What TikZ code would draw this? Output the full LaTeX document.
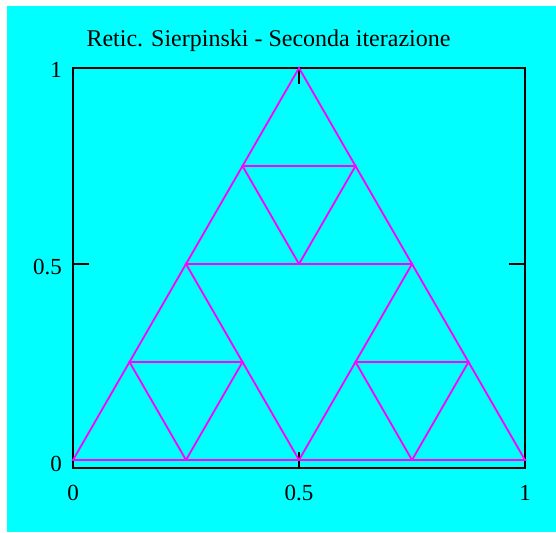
\documentclass[tikz,border=0pt]{standalone}
\usepackage{fontspec}
\setmainfont{Liberation Serif}
\definecolor{bgcyan}{RGB}{0,255,255}
\definecolor{mag}{RGB}{255,0,255}
\begin{document}
\begin{tikzpicture}[x=1pt,y=-1pt,
  framebox/.style={draw=black,line width=1.8pt},
  tickline/.style={draw=black,line width=1.8pt},
  tri/.style={draw=mag,line width=1.8pt,line join=miter},
  lab/.style={font=\fontsize{23}{23}\selectfont,inner sep=0pt},
  ttl/.style={font=\fontsize{24}{24}\selectfont,inner sep=0pt}]
\useasboundingbox (0,0) rectangle (556,532);
\fill[white] (0,0) rectangle (556,532);
\fill[bgcyan] (7,6) rectangle (556,532);
\node[ttl,anchor=base] (title) at (268.5,47) {Retic. Sierpinski - Seconda iterazione};
\begin{scope}[shift={(73,460)},x=452pt,y=392pt]
  % frame
  \draw[framebox] (0,-0.0204) rectangle (1,1);
  % ticks
  \foreach \v in {0,0.5,1}{
    \draw[tickline] (0,\v) -- ++(16pt,0);
    \draw[tickline] (1,\v) -- ++(-16pt,0);
  }
  \draw[tickline] (0.5,1) -- ++(0,-16pt);
  \draw[tickline] (0.5,-0.0204) -- ++(0,16pt);
  % Sierpinski second iteration
  \foreach \px/\py in {0/0,0.25/0,0.125/0.25,0.5/0,0.75/0,0.625/0.25,0.25/0.5,0.5/0.5,0.375/0.75}{
    \draw[tri] (\px,\py) -- ++(0.25,0) -- ++(-0.125,0.25) -- cycle;
  }
  % tick labels
  \node[lab,anchor=east] (y0) at ([xshift=-11pt,yshift=-4pt]0,0) {0};
  \node[lab,anchor=east] (y05) at ([xshift=-11pt,yshift=-3pt]0,0.5) {0.5};
  \node[lab,anchor=east] (y1) at ([xshift=-11pt,yshift=-2pt]0,1) {1};
  \node[lab,anchor=base] (x0) at ([yshift=-40pt]0,0) {0};
  \node[lab,anchor=base] (x05) at ([yshift=-40pt]0.5,0) {0.5};
  \node[lab,anchor=base] (x1) at ([yshift=-40pt]1,0) {1};
\end{scope}
\end{tikzpicture}
\end{document}
